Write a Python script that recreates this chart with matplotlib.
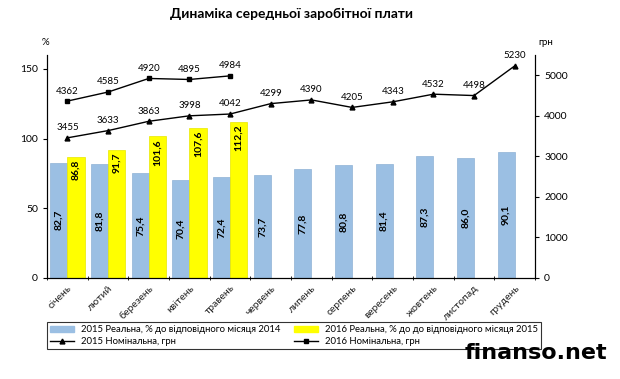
import numpy as np
import matplotlib.pyplot as plt
from matplotlib.lines import Line2D
from matplotlib.patches import Patch

plt.rcParams["font.family"] = ["Lato", "DejaVu Sans"]

months = ["січень", "лютий", "березень", "квітень", "травень", "червень",
          "липень", "серпень", "вересень", "жовтень", "листопад", "грудень"]
real_2015 = [82.7, 81.8, 75.4, 70.4, 72.4, 73.7, 77.8, 80.8, 81.4, 87.3, 86.0, 90.1]
real_2016 = [86.8, 91.7, 101.6, 107.6, 112.2]
nom_2015 = [3455, 3633, 3863, 3998, 4042, 4299, 4390, 4205, 4343, 4532, 4498, 5230]
nom_2016 = [4362, 4585, 4920, 4895, 4984]

BLUE = "#9bbfe3"
YELLOW = "#ffff00"

fig = plt.figure(figsize=(6.2, 3.79), dpi=100)
ax = fig.add_axes([0.076, 0.267, 0.787, 0.588])
ax2 = ax.twinx()

x15 = np.arange(len(real_2015))
x16 = np.arange(len(real_2016))
w = 0.42
ax.bar(x15 - w / 2, real_2015, w, color=BLUE, edgecolor="#8fb2d6", linewidth=0.5)
ax.bar(x16 + w / 2, real_2016, w, color=YELLOW, edgecolor="#e8e800", linewidth=0.5)

# bar labels: blue ones centred, yellow ones near the top
for xi, v in zip(x15, real_2015):
    ax.text(xi - w / 2, v / 2, f"{v:.1f}".replace(".", ","), rotation=90,
            ha="center", va="center", fontsize=7.5, fontweight="bold")
for xi, v in zip(x16, real_2016):
    ax.text(xi + w / 2, v - 2, f"{v:.1f}".replace(".", ","), rotation=90,
            ha="center", va="top", fontsize=7.5, fontweight="bold")

ax2.plot(x15, nom_2015, color="black", lw=1, marker="^", ms=3.5)
ax2.plot(x16, nom_2016, color="black", lw=1, marker="s", ms=3.5)
for xi, v in zip(x15, nom_2015):
    ax2.annotate(str(v), (xi, v), xytext=(0, 4), textcoords="offset points",
                 ha="center", va="bottom", fontsize=7)
for xi, v in zip(x16, nom_2016):
    ax2.annotate(str(v), (xi, v), xytext=(0, 4), textcoords="offset points",
                 ha="center", va="bottom", fontsize=7)

ax.set_xlim(-0.5, len(months) - 0.5)
ax.set_ylim(0, 160)
ax2.set_ylim(0, 5500)
ax.set_yticks([0, 50, 100, 150])
ax2.set_yticks([0, 1000, 2000, 3000, 4000, 5000])

ax.set_xticks(x15)
ax.set_xticklabels(months, rotation=45, ha="right", va="top",
                   rotation_mode="anchor", fontsize=7.5, color="#222222")
ax.tick_params(axis="x", length=0, pad=4)
ax.set_xticks(np.arange(-0.5, len(months), 1), minor=True)
ax.tick_params(axis="x", which="minor", length=3, direction="inout")
ax.tick_params(axis="y", labelsize=7.5, length=3, direction="out")
ax2.tick_params(axis="y", labelsize=7.5, length=3, direction="out")

for a in (ax, ax2):
    a.spines["top"].set_visible(False)
    for s in a.spines.values():
        s.set_linewidth(0.8)

fig.text(0.47, 0.962, "Динаміка середньої заробітної плати", ha="center",
         va="center", fontsize=10, fontweight="bold")
fig.text(0.073, 0.888, "%", ha="center", va="center", fontsize=7)
fig.text(0.88, 0.888, "грн", ha="center", va="center", fontsize=7)

handles = [Patch(color=BLUE), Line2D([], [], color="black", lw=1, marker="^", ms=3.5),
           Patch(color=YELLOW), Line2D([], [], color="black", lw=1, marker="s", ms=3.5)]
labels = ["2015 Реальна, % до відповідного місяця 2014", "2015 Номінальна, грн",
          "2016 Реальна, % до до відповідного місяця 2015", "2016 Номінальна, грн"]
leg = fig.legend(handles, labels, ncol=2, loc="upper left",
                 bbox_to_anchor=(0.076, 0.074, 0.797, 0.076), mode="expand",
                 fontsize=6.8, frameon=True, fancybox=False, borderpad=0.3,
                 labelspacing=0.3, handlelength=2.5, handleheight=0.6,
                 columnspacing=1.0, borderaxespad=0)
leg.get_frame().set_edgecolor("black")
leg.get_frame().set_linewidth(0.8)

fig.text(0.98, 0.068, "finanso.net", ha="right", va="center", fontsize=16,
         fontweight="bold", family=["DejaVu Sans"], zorder=10)

fig.savefig("out.png", dpi=100)
